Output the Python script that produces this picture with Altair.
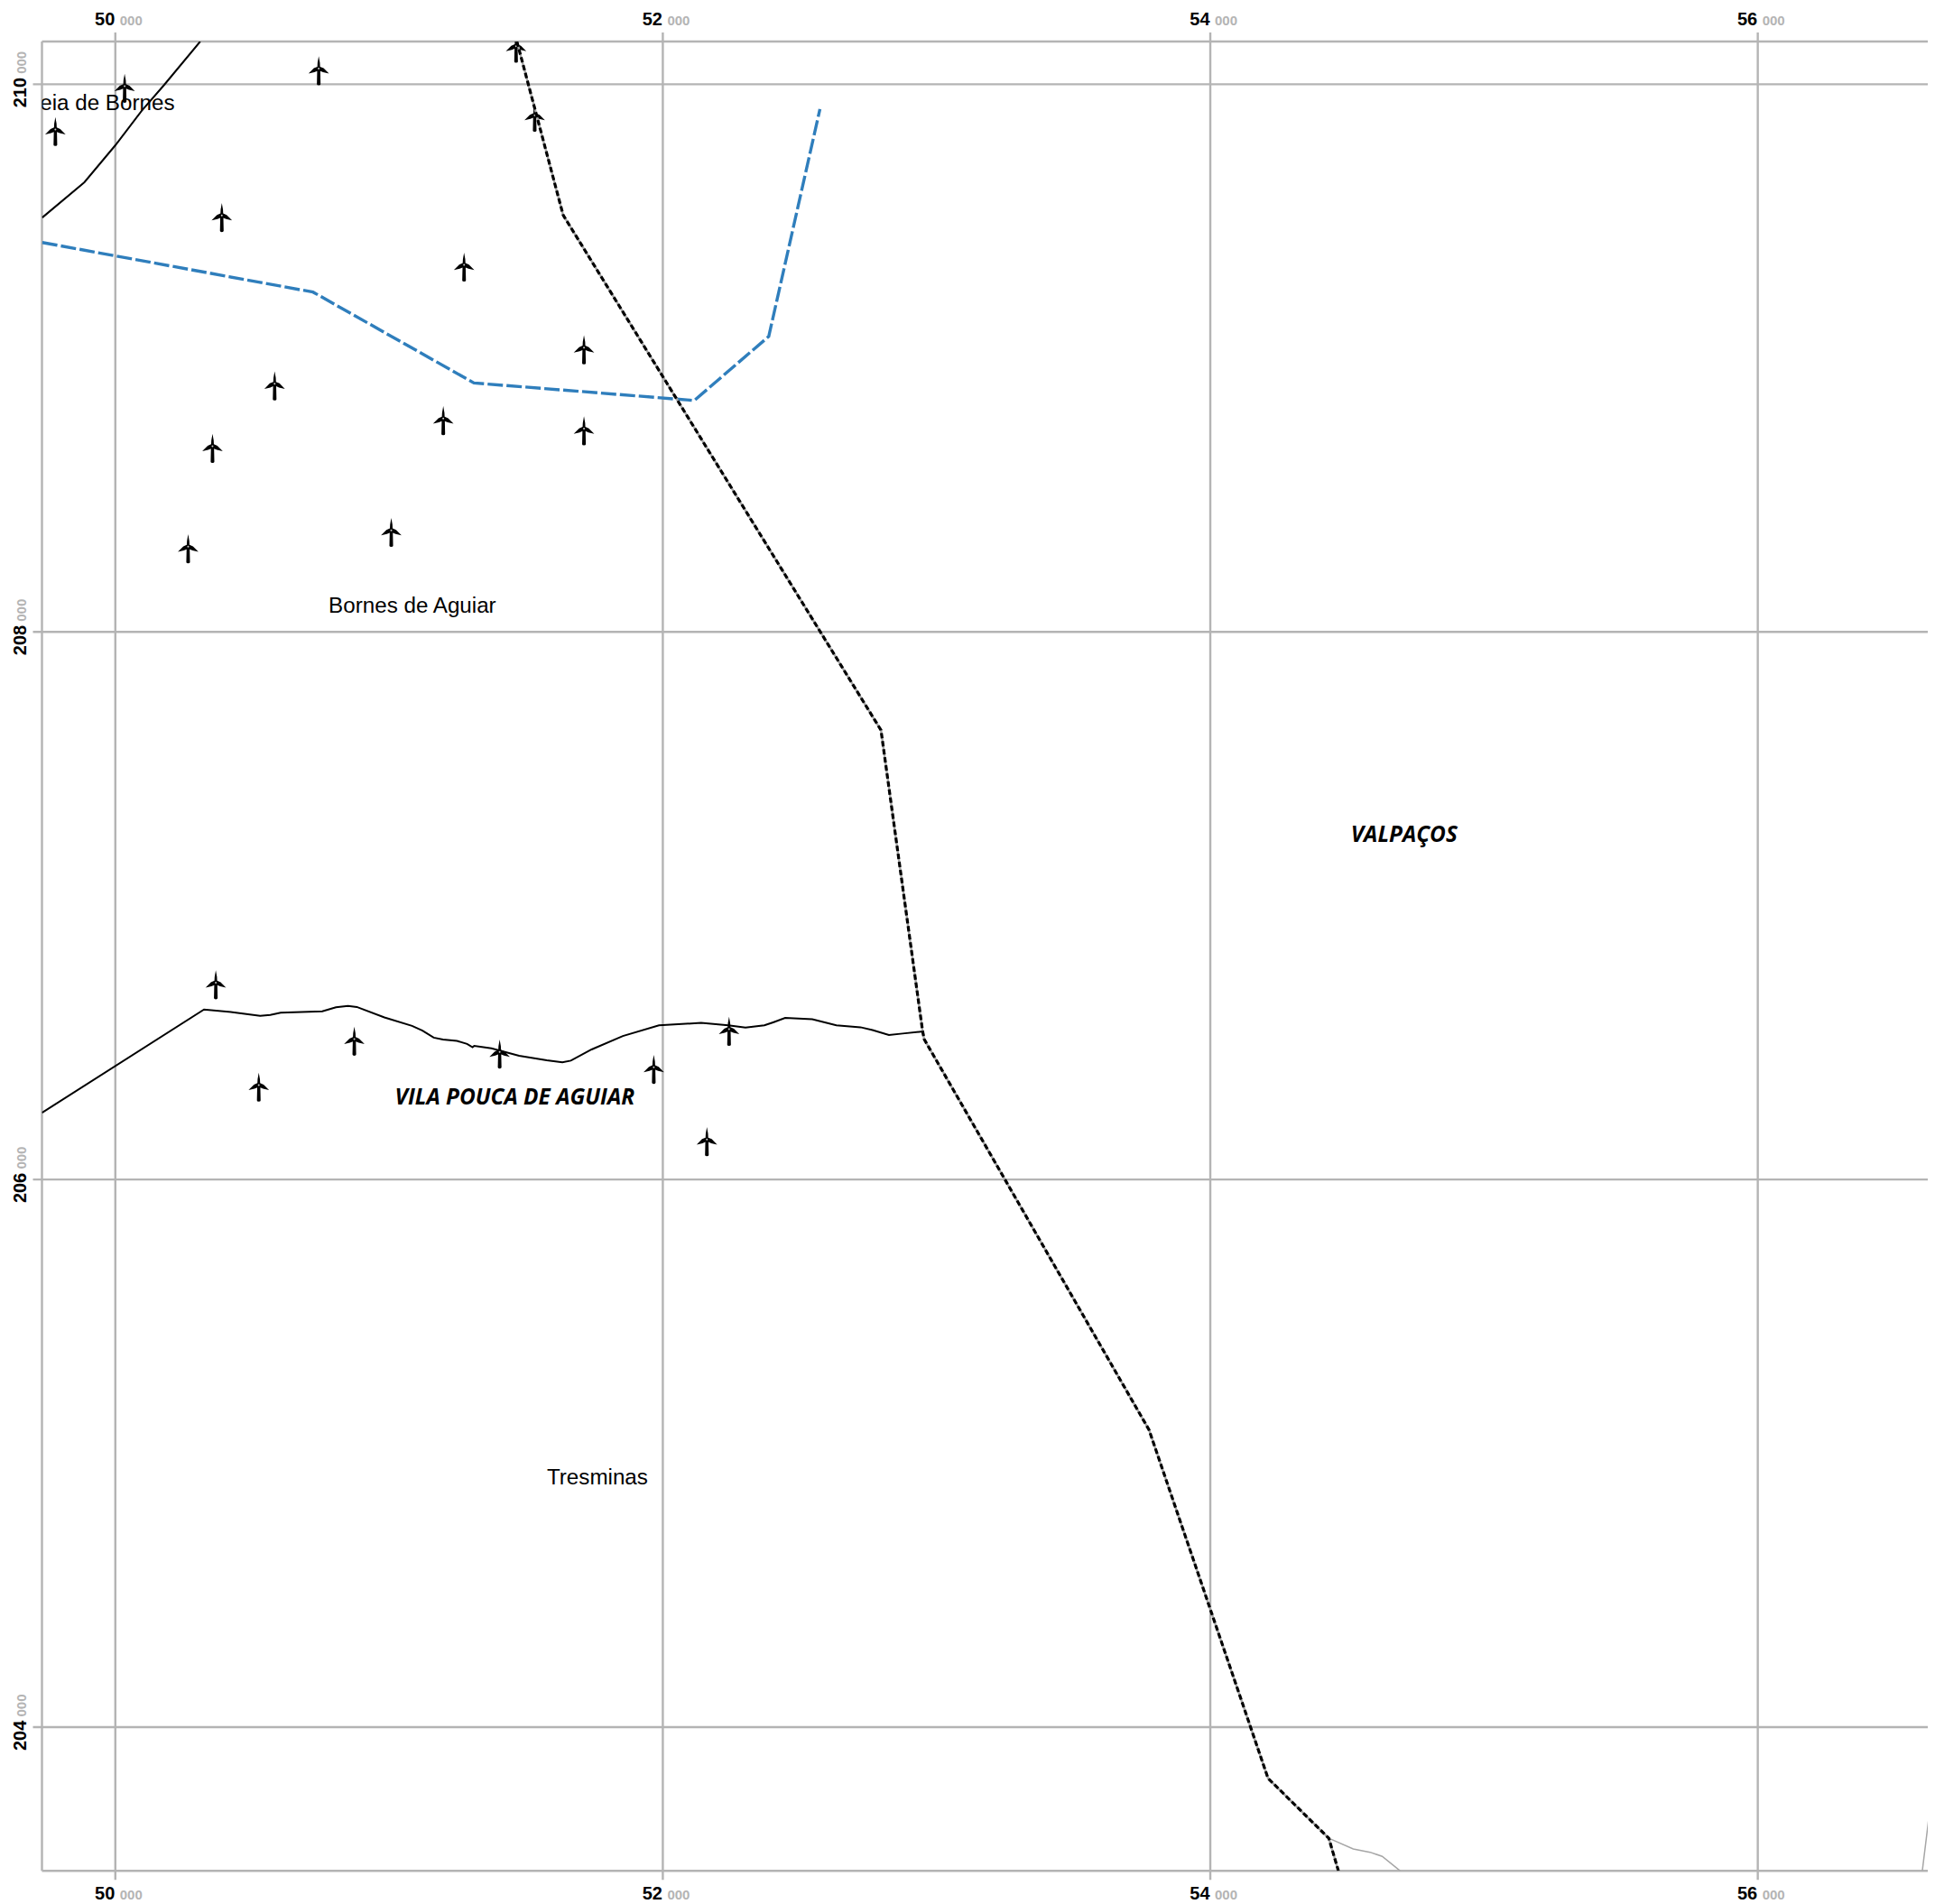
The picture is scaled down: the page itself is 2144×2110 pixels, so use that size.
import altair as alt
import pandas as pd

# ---- tick values and labels
x_ticks = [50000, 52000, 54000, 56000]
x_major = ["50", "52", "54", "56"]
y_ticks = [204000, 206000, 208000, 210000]
y_major = ["204", "206", "208", "210"]
minor = "000"

X_MIN, X_MAX = 49732, 56621
Y_MIN, Y_MAX = 203475, 210156

# ---- wind turbines
turbine_x = [49781, 50034, 50743, 50389, 51274, 51712, 50582, 51198, 51712, 50355, 51008,
             50266, 51464, 51532, 50367, 50873, 50524, 51404, 51967, 52161, 52242]
turbine_y = [209835, 209993, 210057, 209521, 209340, 209038, 208906, 208779, 208742, 208678, 208371,
             208311, 210139, 209887, 206719, 206513, 206345, 206466, 206410, 206146, 206549]

# ---- municipal border (dashed black over grey)
border_x = [51467, 51636, 52797, 52949, 52955, 53776, 54211, 54433, 54468]
border_y = [210156, 209522, 207641, 206542, 206512, 205086, 203813, 203594, 203475]

# ---- blue dashed line
blue_x = [49733, 50722, 51310, 52115, 52387, 52574]
blue_y = [209422, 209241, 208909, 208845, 209079, 209909]

# ---- solid black lines
road1_x = [49733, 49887, 50000, 50096, 50178, 50310]
road1_y = [209513, 209642, 209777, 209903, 209997, 210156]

road2_x = [49732, 50324, 50428, 50529, 50566, 50604, 50756, 50806, 50850, 50882, 50983, 51084,
           51122, 51163, 51197, 51248, 51285, 51305, 51311, 51374, 51475, 51576, 51633, 51664,
           51740, 51854, 51986, 52140, 52239, 52302, 52371, 52403, 52447, 52546, 52634, 52722,
           52766, 52826, 52876, 52953]
road2_y = [206244, 206621, 206611, 206598, 206601, 206609, 206614, 206629, 206634, 206630, 206592,
           206561, 206544, 206518, 206511, 206506, 206495, 206483, 206488, 206479, 206452, 206435,
           206428, 206434, 206475, 206524, 206563, 206572, 206563, 206555, 206563, 206574, 206590,
           206585, 206563, 206556, 206546, 206528, 206533, 206541]

# ---- thin grey lines
grey1_x = [54433, 54522, 54584, 54628, 54694]
grey1_y = [203594, 203555, 203543, 203528, 203475]
grey2_x = [56601, 56624, 56648]
grey2_y = [203475, 203662, 203651]

# ---- place names
places = ["Aldeia de Bornes", "Bornes de Aguiar", "Tresminas"]
places_x = [49913, 51085, 51761]
places_y = [209905, 208070, 204888]
councils = ["VILA POUCA DE AGUIAR", "VALPAÇOS"]
councils_x = [51459, 54708]
councils_y = [206275, 207233]

W, H = 2089.5, 2027.3
GRID = "#b4b4b4"
SANS = "Liberation Sans"

X = alt.X("x:Q", axis=None, scale=alt.Scale(domain=[X_MIN, X_MAX], nice=False, zero=False))
Y = alt.Y("y:Q", axis=None, scale=alt.Scale(domain=[Y_MIN, Y_MAX], nice=False, zero=False))


def line(xs, ys, **kw):
    df = pd.DataFrame({"x": xs, "y": ys, "i": list(range(len(xs)))})
    return alt.Chart(df).mark_line(clip=True, **kw).encode(x=X, y=Y, order="i:Q")


grid_v = alt.Chart(pd.DataFrame({"x": x_ticks})).mark_rule(color=GRID, strokeWidth=2.4, clip=False).encode(
    x=X, y=alt.value(-10), y2=alt.value(H + 10))
grid_h = alt.Chart(pd.DataFrame({"y": y_ticks})).mark_rule(color=GRID, strokeWidth=2.4, clip=False).encode(
    y=Y, x=alt.value(-10), x2=alt.value(W))
frame_v = alt.Chart(pd.DataFrame({"x": [X_MIN]})).mark_rule(color=GRID, strokeWidth=2.4, clip=False).encode(
    x=X, y=alt.value(0), y2=alt.value(H))
frame_h = alt.Chart(pd.DataFrame({"y": [Y_MIN, Y_MAX]})).mark_rule(color=GRID, strokeWidth=2.4, clip=False).encode(
    y=Y, x=alt.value(0), x2=alt.value(W))

TURBINE = ("M0,-12.8 L1.2,-6 L1.4,-2 L5,-0.4 L10.6,5.2 L4.5,3.8 L1.6,2.6 L1.9,16 Q1.9,17.2 0,17.2 "
           "Q-1.9,17.2 -1.9,16 L-1.6,2.6 L-4.5,3.8 L-10.6,5.2 L-5,-0.4 L-1.4,-2 L-1.2,-6 Z")
turb_df = pd.DataFrame({"x": turbine_x, "y": turbine_y})
turbines = alt.Chart(turb_df).mark_point(
    shape=TURBINE, filled=True, size=4.6, color="black", opacity=1, strokeWidth=0, clip=True
).encode(x=X, y=Y)
hubs = alt.Chart(turb_df).mark_point(
    shape="circle", filled=True, size=4, color="#cccccc", opacity=1, strokeWidth=0, clip=True
).encode(x=X, y=Y)

layers = [grid_v, grid_h, frame_v, frame_h,
          line(grey1_x, grey1_y, color="#a6a6a6", strokeWidth=1.5),
          line(grey2_x, grey2_y, color="#a6a6a6", strokeWidth=1.5),
          line(road1_x, road1_y, color="black", strokeWidth=2),
          line(road2_x, road2_y, color="black", strokeWidth=2),
          line(blue_x, blue_y, color="#2f7ebc", strokeWidth=3.4, strokeDash=[17, 4]),
          turbines, hubs,
          line(border_x, border_y, color="#a6a6a6", strokeWidth=2.4),
          line(border_x, border_y, color="black", strokeWidth=3.2, strokeDash=[6, 3])]

# tick labels along the top and bottom
xlab = pd.DataFrame({"x": x_ticks, "major": x_major})
for ypos in (-18, H + 32):
    layers.append(alt.Chart(xlab).mark_text(font=SANS, fontSize=20, fontWeight="bold", color="black",
                                            align="right", baseline="alphabetic", dx=-0.5, clip=False).encode(
        x=X, y=alt.value(ypos), text="major:N"))
    layers.append(alt.Chart(xlab).transform_calculate(m=f"'{minor}'").mark_text(
        font=SANS, fontSize=15, fontWeight="bold", color=GRID,
        align="left", baseline="alphabetic", dx=5, clip=False).encode(
        x=X, y=alt.value(ypos), text="m:N"))

# tick labels along the left (dx runs along the rotated text)
ylab = pd.DataFrame({"y": y_ticks, "major": y_major})
layers.append(alt.Chart(ylab).mark_text(font=SANS, fontSize=20, fontWeight="bold", color="black", angle=270,
                                        align="left", baseline="alphabetic", dx=-26, clip=False).encode(
    y=Y, x=alt.value(-17.2), text="major:N"))
layers.append(alt.Chart(ylab).transform_calculate(m=f"'{minor}'").mark_text(
    font=SANS, fontSize=15, fontWeight="bold", color=GRID, angle=270,
    align="left", baseline="alphabetic", dx=11.5, clip=False).encode(
    y=Y, x=alt.value(-17.2), text="m:N"))

# place names
layers.append(alt.Chart(pd.DataFrame({"x": places_x, "y": places_y, "t": places})).mark_text(
    font=SANS, fontSize=24.2, color="black", align="center", baseline="alphabetic", clip=True).encode(
    x=X, y=Y, text="t:N"))
layers.append(alt.Chart(pd.DataFrame({"x": councils_x, "y": councils_y, "t": councils})).mark_text(
    font="Open Sans", fontSize=24.4, fontWeight="bold", fontStyle="italic", color="black",
    align="center", baseline="alphabetic", clip=True).encode(x=X, y=Y, text="t:N"))

chart = alt.layer(*layers).properties(
    width=W, height=H,
    autosize=alt.AutoSizeParams(type="none"),
    padding={"left": 38.5, "top": 38, "right": 0, "bottom": 36},
).configure_view(stroke=None)

chart.save("out.html", embed_options={"renderer": "svg", "actions": False})
